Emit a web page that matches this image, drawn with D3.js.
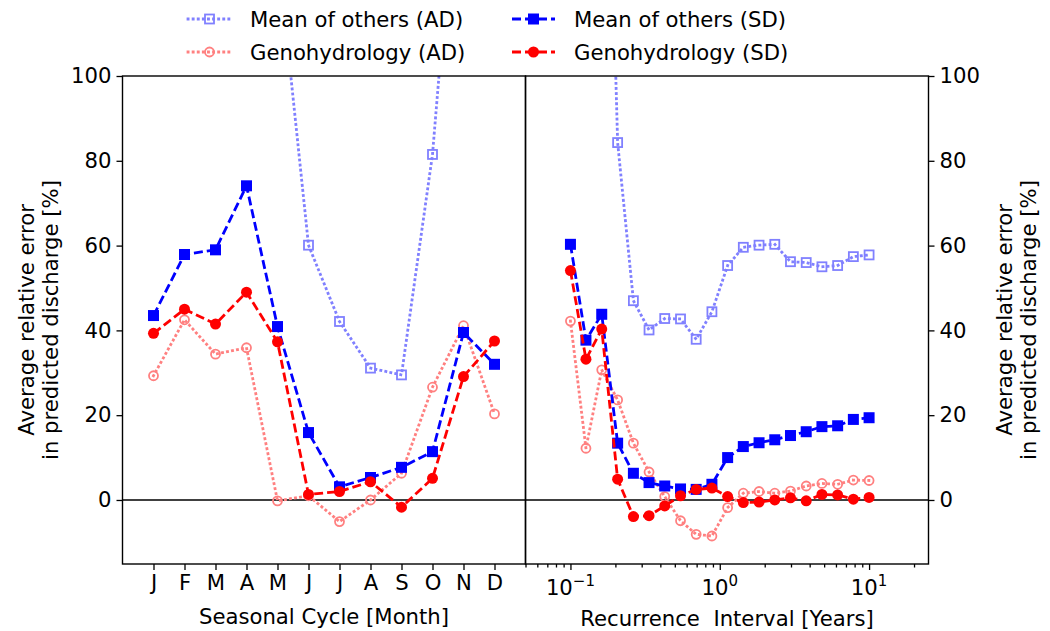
<!DOCTYPE html>
<html lang="en">
<head>
<meta charset="utf-8">
<title>Average relative error</title>
<script src="https://d3js.org/d3.v7.min.js"></script>
<style>
body { margin: 0; background: #fff; }
text { font-family: "DejaVu Sans", sans-serif; fill: #000; }
</style>
</head>
<body>
<div id="chart"></div>
<script>
// ---- data ----
var months = ["J", "F", "M", "A", "M", "J", "J", "A", "S", "O", "N", "D"];
var monthIdx = [1, 2, 3, 4, 5, 6, 7, 8, 9, 10, 11, 12];
var monthMeanAD = [150, 175, 185, 165, 130, 60.1, 42.1, 31.1, 29.5, 81.5, 170, 160];
var monthGenoAD = [29.3, 42.5, 34.4, 35.9, -0.2, 1.0, -5.1, 0.0, 6.3, 26.6, 41.1, 20.3];
var monthMeanSD = [43.5, 57.9, 59.0, 74.1, 40.9, 15.9, 3.1, 5.3, 7.7, 11.4, 39.5, 32.0];
var monthGenoSD = [39.3, 45.0, 41.5, 49.0, 37.3, 1.3, 2.0, 4.3, -1.7, 5.1, 29.1, 37.5];

var interval = [0.1, 0.127, 0.162, 0.207, 0.264, 0.336, 0.428, 0.546, 0.695, 0.886,
                1.129, 1.438, 1.833, 2.336, 2.976, 3.793, 4.833, 6.158, 7.848, 10];
var intMeanAD = [400, 300, 220, 84.3, 47.0, 40.1, 42.8, 42.7, 37.9, 44.4,
                 55.3, 59.6, 60.1, 60.3, 56.2, 56.0, 55.0, 55.3, 57.4, 57.8];
var intGenoAD = [42.2, 12.2, 30.7, 23.6, 13.4, 6.6, 0.8, -4.9, -8.1, -8.5,
                 -1.8, 1.6, 2.0, 1.6, 2.1, 3.3, 3.9, 3.7, 4.7, 4.6];
var intMeanSD = [60.3, 37.7, 43.8, 13.4, 6.3, 4.1, 3.3, 2.6, 2.5, 3.7,
                 10.0, 12.6, 13.5, 14.2, 15.2, 16.1, 17.3, 17.5, 19.0, 19.4];
var intGenoSD = [54.1, 33.2, 40.3, 4.9, -3.9, -3.7, -1.4, 1.0, 2.5, 2.8,
                 0.8, -0.6, -0.5, 0.0, 0.5, -0.2, 1.3, 1.2, 0.2, 0.6];

var yTicks = [0, 20, 40, 60, 80, 100];
var logMajor = [0.1, 1, 10];
var logMinor = [0.05, 0.06, 0.07, 0.08, 0.09, 0.2, 0.3, 0.4, 0.5, 0.6, 0.7, 0.8, 0.9,
                2, 3, 4, 5, 6, 7, 8, 9, 20];

var seriesStyle = [
  {name: "Mean of others (AD)", color: "#8080ff", dash: "0.1,5", marker: "square", fill: false},
  {name: "Genohydrology (AD)", color: "#ff8080", dash: "0.1,5", marker: "circle", fill: false},
  {name: "Mean of others (SD)", color: "#0000ff", dash: "9,4", marker: "square", fill: true},
  {name: "Genohydrology (SD)", color: "#ff0000", dash: "9,4", marker: "circle", fill: true}
];

// ---- layout ----
var W = 1050, H = 631;
var plotTop = 76, plotBottom = 564;
var leftX0 = 122.5, leftX1 = 525.5, rightX1 = 928.5;
var fs = "21.2px";

var svg = d3.select("#chart").append("svg")
  .attr("width", W).attr("height", H);

var y = d3.scaleLinear().domain([-15.1, 100]).range([plotBottom, plotTop]);
var xm = d3.scaleLinear().domain([0, 13]).range([leftX0, leftX1]);
var xl = d3.scaleLog().domain([0.05, 25]).range([leftX1, rightX1]);

var defs = svg.append("defs");
defs.append("clipPath").attr("id", "clipL").append("rect")
  .attr("x", leftX0).attr("y", plotTop).attr("width", leftX1 - leftX0).attr("height", plotBottom - plotTop);
defs.append("clipPath").attr("id", "clipR").append("rect")
  .attr("x", leftX1).attr("y", plotTop).attr("width", rightX1 - leftX1).attr("height", plotBottom - plotTop);

function drawMarker(g, style, cx, cy) {
  var s = style.fill ? 11 : 9;
  if (style.marker === "square") {
    g.append("rect")
      .attr("x", cx - s / 2).attr("y", cy - s / 2).attr("width", s).attr("height", s)
      .attr("fill", style.fill ? style.color : "none")
      .attr("stroke", style.color).attr("stroke-width", style.fill ? 0 : 1.8);
  } else {
    g.append("circle")
      .attr("cx", cx).attr("cy", cy).attr("r", s / 2)
      .attr("fill", style.fill ? style.color : "none")
      .attr("stroke", style.color).attr("stroke-width", style.fill ? 0 : 1.8);
  }
}

function drawSeries(clipId, xs, xScale, vals, style) {
  var g = svg.append("g").attr("clip-path", "url(#" + clipId + ")");
  var pts = xs.map(function(d, i) { return [xScale(d), y(vals[i])]; });
  g.append("path")
    .attr("d", d3.line()(pts))
    .attr("fill", "none")
    .attr("stroke", style.color)
    .attr("stroke-width", 2.8)
    .attr("stroke-dasharray", style.dash)
    .attr("stroke-linecap", style.fill ? "butt" : "square");
  pts.forEach(function(p) { drawMarker(g, style, p[0], p[1]); });
}

// zero line
svg.append("line").attr("x1", leftX0).attr("x2", rightX1)
  .attr("y1", y(0)).attr("y2", y(0)).attr("stroke", "#000").attr("stroke-width", 1.6);

var leftVals = [monthMeanAD, monthGenoAD, monthMeanSD, monthGenoSD];
var rightVals = [intMeanAD, intGenoAD, intMeanSD, intGenoSD];
seriesStyle.forEach(function(st, i) {
  drawSeries("clipL", monthIdx, xm, leftVals[i], st);
  drawSeries("clipR", interval, xl, rightVals[i], st);
});

// frames
[[leftX0, leftX1], [leftX1, rightX1]].forEach(function(r) {
  svg.append("rect").attr("x", r[0]).attr("y", plotTop)
    .attr("width", r[1] - r[0]).attr("height", plotBottom - plotTop)
    .attr("fill", "none").attr("stroke", "#000").attr("stroke-width", 1.4);
});

// y axes
var yAxisL = svg.append("g").attr("transform", "translate(" + leftX0 + ",0)")
  .call(d3.axisLeft(y).tickValues(yTicks).tickSize(6).tickPadding(5));
var yAxisR = svg.append("g").attr("transform", "translate(" + rightX1 + ",0)")
  .call(d3.axisRight(y).tickValues(yTicks).tickSize(6).tickPadding(5));

// month axis
var xAxisM = svg.append("g").attr("transform", "translate(0," + plotBottom + ")")
  .call(d3.axisBottom(xm).tickValues(monthIdx).tickSize(6).tickPadding(5)
    .tickFormat(function(d, i) { return months[i]; }));

// log axis
var xAxisL = svg.append("g").attr("transform", "translate(0," + plotBottom + ")")
  .call(d3.axisBottom(xl).tickValues(logMajor).tickSize(6).tickFormat(""));
var xAxisMinor = svg.append("g").attr("transform", "translate(0," + plotBottom + ")")
  .call(d3.axisBottom(xl).tickValues(logMinor).tickSize(3.5).tickFormat(""));

[yAxisL, yAxisR, xAxisM, xAxisL, xAxisMinor].forEach(function(a) {
  a.select(".domain").remove();
  a.selectAll("line").attr("stroke", "#000").attr("stroke-width", 1.3);
  a.selectAll("text").style("font-size", fs).style("font-family", "DejaVu Sans");
});

// log tick labels: 10^k
logMajor.forEach(function(v) {
  var e = Math.round(Math.log10(v));
  var t = svg.append("text")
    .attr("x", xl(v)).attr("y", plotBottom + 31)
    .attr("text-anchor", "middle").style("font-size", fs);
  t.append("tspan").text("10");
  t.append("tspan").attr("dy", -9).style("font-size", "15px")
    .text(e < 0 ? "\u2212" + (-e) : String(e));
});

// axis labels
svg.append("text").attr("x", (leftX0 + leftX1) / 2).attr("y", plotBottom + 60)
  .attr("text-anchor", "middle").style("font-size", fs)
  .text("Seasonal Cycle [Month]");
svg.append("text").attr("x", (leftX1 + rightX1) / 2).attr("y", plotBottom + 62)
  .attr("text-anchor", "middle").style("font-size", fs)
  .style("white-space", "pre")
  .text("Recurrence  Interval [Years]");

function yLabel(cx) {
  var cy = (plotTop + plotBottom) / 2;
  var t = svg.append("text")
    .attr("transform", "translate(" + cx + "," + cy + ") rotate(-90)")
    .attr("text-anchor", "middle").style("font-size", fs);
  t.append("tspan").attr("x", 0).attr("y", 0).text("Average relative error");
  t.append("tspan").attr("x", 0).attr("y", 24).text("in predicted discharge [%]");
}
yLabel(34);
yLabel(1012);

// legend
var legPos = [[188, 19], [188, 52], [512, 19], [512, 52]];
seriesStyle.forEach(function(st, i) {
  var lx = legPos[i][0], ly = legPos[i][1];
  var g = svg.append("g");
  g.append("line").attr("x1", lx).attr("x2", lx + 43).attr("y1", ly).attr("y2", ly)
    .attr("stroke", st.color).attr("stroke-width", 2.8)
    .attr("stroke-dasharray", st.dash)
    .attr("stroke-linecap", st.fill ? "butt" : "square");
  drawMarker(g, st, lx + 21.5, ly);
  g.append("text").attr("x", lx + 62).attr("y", ly + 7.5)
    .style("font-size", fs).text(st.name);
});
</script>
</body>
</html>
